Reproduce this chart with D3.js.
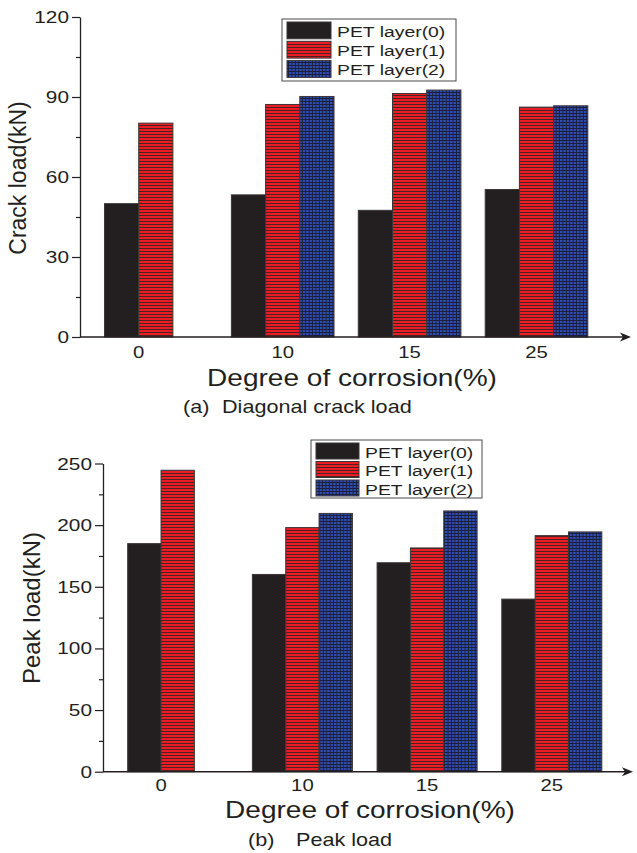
<!DOCTYPE html>
<html><head><meta charset="utf-8">
<script src="https://cdn.jsdelivr.net/npm/d3@7"></script>
<style>
body{margin:0;background:#fff}
svg{display:block}
text{font-family:"Liberation Sans",Arial,Helvetica,sans-serif;fill:#231f20}
</style>
</head><body>
<svg id="c" width="637" height="853"></svg>
<script>
// ---------- data ----------
const categories = ["0", "10", "15", "25"];
const seriesNames = ["PET layer(0)", "PET layer(1)", "PET layer(2)"];
const crackLayer0 = [50.0, 53.3, 47.5, 55.3];
const crackLayer1 = [80.2, 87.2, 91.3, 86.2];
const crackLayer2 = [null, 90.2, 92.6, 86.7];
const peakLayer0 = [185, 160, 169.5, 140];
const peakLayer1 = [244.5, 198, 181.5, 191.5];
const peakLayer2 = [null, 209.5, 211.5, 194.5];
const crackTicks = [0, 30, 60, 90, 120];
const crackMinor = [15, 45, 75, 105];
const peakTicks = [0, 50, 100, 150, 200, 250];
const peakMinor = [25, 75, 125, 175, 225];
const xTitle = "Degree of corrosion(%)";

const svg = d3.select("#c");
const SX = 1.27; // horizontal stretch of the original typography

// ---------- patterns ----------
const defs = svg.append("defs");
const pr = defs.append("pattern").attr("id", "pRed").attr("patternUnits", "userSpaceOnUse")
  .attr("width", 4).attr("height", 3);
pr.append("rect").attr("width", 4).attr("height", 3).attr("fill", "#ec1c24");
pr.append("rect").attr("y", 2).attr("width", 4).attr("height", 1).attr("fill", "#4a2222");
const pb = defs.append("pattern").attr("id", "pBlue").attr("patternUnits", "userSpaceOnUse")
  .attr("width", 3.4).attr("height", 3);
pb.append("rect").attr("width", 3.4).attr("height", 3).attr("fill", "#2f4db5");
pb.append("rect").attr("y", 2).attr("width", 3.4).attr("height", 1).attr("fill", "#1b1f3a");
pb.append("rect").attr("x", 2.4).attr("width", 1).attr("height", 3).attr("fill", "#1b1f3a");
const fills = ["#231f20", "url(#pRed)", "url(#pBlue)"];

function stext(g, str, x, y, size, anchor, sx) {
  return g.append("text")
    .attr("transform", `translate(${x},${y}) scale(${sx === undefined ? SX : sx},1)`)
    .attr("text-anchor", anchor || "start")
    .style("font-size", size + "px")
    .text(str);
}

function panel(cfg) {
  const g = svg.append("g");
  const y = d3.scaleLinear().domain([0, cfg.yMax]).range([cfg.yBottom, cfg.yTop]);
  const x0 = d3.scaleBand().domain(categories).range([cfg.axisX, cfg.rangeRight])
    .paddingInner(cfg.pi).paddingOuter(cfg.po);
  const x1 = d3.scaleBand().domain([0, 1, 2]).range([0, x0.bandwidth()]);

  // bars
  categories.forEach((c, i) => {
    const gg = g.append("g").attr("transform", `translate(${x0(c)},0)`);
    const vals = cfg.data.map(s => s[i]);
    gg.selectAll("rect").data(vals.map((v, k) => ({v, k})).filter(d => d.v != null))
      .join("rect")
      .attr("x", d => x1(d.k))
      .attr("y", d => y(d.v))
      .attr("width", x1.bandwidth())
      .attr("height", d => y(0) - y(d.v))
      .attr("fill", d => fills[d.k])
      .attr("stroke", "#3a3536").attr("stroke-width", 1);
    // category label centred under drawn bars
    const present = vals.map((v, k) => v != null ? k : -1).filter(k => k >= 0);
    const left = x0(c) + x1(present[0]);
    const right = x0(c) + x1(present[present.length - 1]) + x1.bandwidth();
    stext(g, c, (left + right) / 2, cfg.xLabelY, 16, "middle");
  });

  // y axis (major + minor)
  const yAxis = d3.axisLeft(y).tickValues(cfg.ticks).tickSize(8).tickSizeOuter(0).tickFormat("");
  const ya = g.append("g").attr("transform", `translate(${cfg.axisX},0)`).call(yAxis);
  const yMin = d3.axisLeft(y).tickValues(cfg.minor).tickSize(4).tickSizeOuter(0).tickFormat("");
  const ym = g.append("g").attr("transform", `translate(${cfg.axisX},0)`).call(yMin);
  ym.select(".domain").remove();
  g.selectAll(".tick line").attr("stroke", "#231f20").attr("stroke-width", 1.2);
  ya.select(".domain").attr("stroke", "#231f20").attr("stroke-width", 1.3);
  cfg.ticks.forEach(t => {
    stext(g, String(t), cfg.axisX - 11, y(t) + 6, 16, "end", 1.3);
  });

  // x axis with arrow
  const y0 = y(0);
  g.append("line").attr("x1", cfg.axisX).attr("x2", cfg.arrowX - 4).attr("y1", y0).attr("y2", y0)
    .attr("stroke", "#231f20").attr("stroke-width", 1.4);
  const ax = cfg.arrowX;
  g.append("path")
    .attr("d", `M${ax},${y0} L${ax - 11},${y0 - 4.5} L${ax - 8},${y0} L${ax - 11},${y0 + 4.5} Z`)
    .attr("fill", "#231f20");

  // titles
  stext(g, xTitle, cfg.xTitleX, cfg.xTitleY, 23, "middle", 1.22);
  g.append("text")
    .attr("transform", `translate(${cfg.yTitleX},${cfg.yTitleY}) rotate(-90)`)
    .attr("text-anchor", "middle").style("font-size", cfg.yTitleSize + "px")
    .text(cfg.yTitle);
  stext(g, cfg.capA, cfg.capAX, cfg.capY, 18, "start", 1.2);
  stext(g, cfg.capText, cfg.capTextX, cfg.capY, 18, "start", 1.2);

  // legend
  const L = cfg.legend;
  g.append("rect").attr("x", L.x).attr("y", L.y).attr("width", L.w).attr("height", L.h)
    .attr("fill", "#fff").attr("stroke", "#4a4a4a").attr("stroke-width", 1);
  seriesNames.forEach((s, k) => {
    const ry = L.y + 3 + k * L.rowH;
    g.append("rect").attr("x", L.x + 5).attr("y", ry).attr("width", L.sw).attr("height", L.rowH - 2.5)
      .attr("fill", fills[k]).attr("stroke", "#3a3536").attr("stroke-width", 1);
    stext(g, s, L.x + L.sw + 11, ry + 14.5, 15.5, "start", 1.25);
  });
}

panel({
  yMax: 120, yTop: 17, yBottom: 337, axisX: 80, rangeRight: 612.3, pi: 0.1915, po: 0.193,
  arrowX: 631, data: [crackLayer0, crackLayer1, crackLayer2], ticks: crackTicks, minor: crackMinor,
  xLabelY: 358, xTitleX: 352, xTitleY: 386,
  yTitle: "Crack load(kN)", yTitleX: 26, yTitleY: 178, yTitleSize: 23,
  capA: "(a)", capAX: 183, capText: "Diagonal crack load", capTextX: 222, capY: 413,
  legend: {x: 282, y: 19, w: 174, h: 62, sw: 44, rowH: 19.3}
});
panel({
  yMax: 250, yTop: 463.5, yBottom: 771.7, axisX: 103, rangeRight: 626.5, pi: 0.198, po: 0.198,
  arrowX: 633, data: [peakLayer0, peakLayer1, peakLayer2], ticks: peakTicks, minor: peakMinor,
  xLabelY: 791, xTitleX: 370, xTitleY: 818,
  yTitle: "Peak load(kN)", yTitleX: 40, yTitleY: 608, yTitleSize: 24,
  capA: "(b)", capAX: 248, capText: "Peak load", capTextX: 296, capY: 846,
  legend: {x: 311, y: 440, w: 171, h: 58, sw: 43, rowH: 18.5}
});
</script>
</body></html>
